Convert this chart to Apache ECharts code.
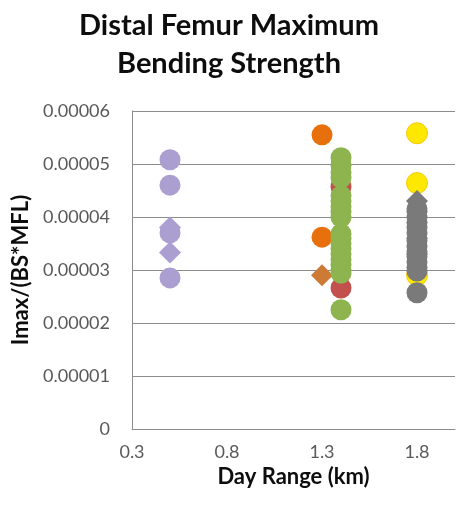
<!DOCTYPE html>
<html><head><meta charset="utf-8">
<script src="https://cdn.jsdelivr.net/npm/echarts@6/dist/echarts.min.js"></script>
<style>html,body{margin:0;padding:0;background:#fff}#c{width:458px;height:512px}</style>
</head><body><div id="c"></div>
<script>
// Tick labels
const xTicks = [0.3, 0.8, 1.3, 1.8];
// Series values (y in Imax/(BS*MFL))
const purpleCircleX = 0.5;
const purpleCircle = [5.08e-5, 4.6e-5, 3.7e-5, 2.85e-5];
const purpleDiamond = [3.8e-5, 3.33e-5];
const orangeCircleX = 1.3;
const orangeCircle = [5.55e-5, 3.62e-5];
const brownDiamond = [2.9e-5];
const redCircleX = 1.4;
const redCircle = [4.57e-5, 2.66e-5];
const greenCircle = [5.12e-5, 4.97e-5, 4.84e-5, 4.74e-5, 4.4e-5, 4.3e-5, 4.2e-5, 4.1e-5, 4.0e-5, 3.68e-5, 3.6e-5, 3.5e-5, 3.4e-5, 3.3e-5, 3.2e-5, 3.1e-5, 3.0e-5, 2.94e-5, 2.25e-5];
const yellowX = 1.8;
const yellowCircle = [5.58e-5, 4.64e-5, 2.9e-5];
const grayDiamond = [4.3e-5, 4.1e-5, 3.6e-5, 3.3e-5];
const grayCircle = [4.15e-5, 4.0e-5, 3.9e-5, 3.8e-5, 3.7e-5, 3.55e-5, 3.45e-5, 3.35e-5, 3.25e-5, 3.15e-5, 3.05e-5, 2.98e-5, 2.57e-5];

const pts = (x, arr) => arr.map(v => [x, v]);
function s(data, color, symbol, size, border) {
  return {type: 'scatter', data, symbol, symbolSize: size,
    itemStyle: {color, opacity: 1, borderColor: border || color, borderWidth: border ? 1 : 0},
    emphasis: {disabled: true}, z: 2};
}
const chart = echarts.init(document.getElementById('c'), null, {renderer: 'canvas'});
chart.setOption({
  animation: false,
  title: {text: 'Distal Femur Maximum\nBending Strength', left: 'center', top: 2,
    textStyle: {fontFamily: 'Lato', fontWeight: 'bold', fontSize: 29, lineHeight: 38, color: '#0d0d0d'}},
  grid: {left: 132, right: 3, top: 111, bottom: 83},
  xAxis: {type: 'value', min: 0.3, max: 2.0,
    name: 'Day Range (km)', nameLocation: 'middle', nameGap: 35,
    nameTextStyle: {fontFamily: 'Lato', fontWeight: 'bold', fontSize: 22, color: '#0d0d0d'},
    axisLine: {show: true, lineStyle: {color: '#8c8c8c', width: 1}},
    axisTick: {show: false}, splitLine: {show: false},
    axisLabel: {customValues: xTicks, fontFamily: 'Lato', fontSize: 18, color: '#595959', margin: 14,
      formatter: v => String(v)}},
  yAxis: {type: 'value', min: 0, max: 6e-5, interval: 1e-5,
    name: 'Imax/(BS*MFL)', nameLocation: 'middle', nameGap: 99, nameRotate: 90,
    nameTextStyle: {fontFamily: 'Lato', fontWeight: 'bold', fontSize: 22, color: '#0d0d0d'},
    axisLine: {show: true, lineStyle: {color: '#8c8c8c', width: 1}},
    axisTick: {show: false},
    splitLine: {show: true, lineStyle: {color: '#8c8c8c', width: 1}},
    axisLabel: {fontFamily: 'Lato', fontSize: 18, color: '#595959', margin: 22,
      formatter: v => v === 0 ? '0' : v.toFixed(5)}},
  series: [
    s(pts(purpleCircleX, purpleCircle), '#ab9fd1', 'circle', 21),
    s(pts(purpleCircleX, purpleDiamond), '#ab9fd1', 'diamond', 22),
    s(pts(orangeCircleX, orangeCircle), '#e8700c', 'circle', 21),
    s(pts(orangeCircleX, brownDiamond), '#cc7a36', 'diamond', 22),
    s(pts(redCircleX, redCircle), '#c2504d', 'circle', 21),
    s(pts(redCircleX, greenCircle), '#8db44e', 'circle', 21),
    s(pts(yellowX, yellowCircle), '#ffe800', 'circle', 21, '#f5c800'),
    s(pts(yellowX, grayDiamond), '#7a7a7a', 'diamond', 22),
    s(pts(yellowX, grayCircle), '#7a7a7a', 'circle', 21)
  ]
});
</script></body></html>
